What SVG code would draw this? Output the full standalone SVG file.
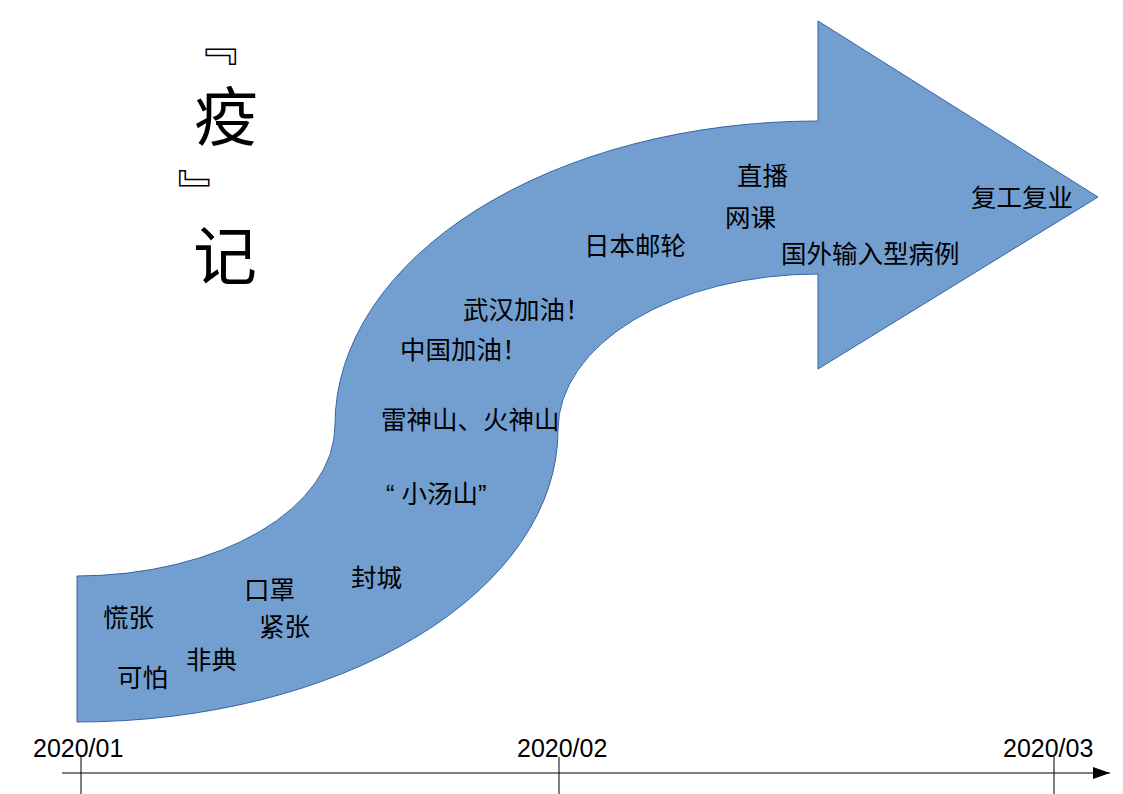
<svg xmlns="http://www.w3.org/2000/svg" width="1123" height="794" viewBox="0 0 1123 794">
<style>
.lbl{font-family:"Noto Sans CJK SC","Noto Sans",sans-serif;font-size:25.5px;fill:#000}
.lat{font-family:"Liberation Sans",Arial,sans-serif}
.date{font-family:"Liberation Sans",Arial,sans-serif;font-size:25px;fill:#000}
.title{font-family:"Noto Sans CJK SC",sans-serif;font-size:64px;fill:#000}
.br{font-family:"Noto Sans CJK SC",sans-serif;font-size:45px;fill:#000;text-anchor:middle;dominant-baseline:central}
.ax{stroke:#000;stroke-width:1;fill:none}
</style>
<defs>
<marker id="ah" markerWidth="17" markerHeight="12" refX="17" refY="6" orient="auto" markerUnits="userSpaceOnUse">
<path d="M0,0 L17,6 L0,12 Z" fill="#000"/>
</marker>
</defs>
<rect width="1123" height="794" fill="#fff"/>
<g id="title">
<text class="br" transform="translate(216,44) rotate(90)">『</text>
<text class="title" x="194" y="140">疫</text>
<text class="br" transform="translate(202,191) rotate(90)">』</text>
<text class="title" x="193" y="279">记</text>
</g>
<g id="arrow">
<path d="M77,576 A258,151 0 0 0 335,425 A483,304 0 0 1 818,121 L818,21 L1098,197 L818,369 L818,274 A260,156 0 0 0 558,430 A481,292 0 0 1 77,722 Z" fill="#729fcf" stroke="#3465a4" stroke-width="1"/>
</g>
<g id="labels">
<text class="lbl" x="103" y="627">慌张</text>
<text class="lbl" x="117" y="687">可怕</text>
<text class="lbl" x="186" y="669">非典</text>
<text class="lbl" x="244" y="599">口罩</text>
<text class="lbl" x="259" y="636">紧张</text>
<text class="lbl" x="351" y="587">封城</text>
<text class="lbl" x="386" y="503"><tspan class="lat">“ </tspan>小汤山<tspan class="lat">”</tspan></text>
<text class="lbl" x="381" y="429">雷神山、火神山</text>
<text class="lbl" x="400" y="359">中国加油！</text>
<text class="lbl" x="463" y="319">武汉加油！</text>
<text class="lbl" x="584" y="255">日本邮轮</text>
<text class="lbl" x="737" y="185">直播</text>
<text class="lbl" x="725" y="227">网课</text>
<text class="lbl" x="781" y="263">国外输入型病例</text>
<text class="lbl" x="971" y="207">复工复业</text>
</g>
<g id="connectors">
<line class="ax" x1="62" y1="773" x2="1110" y2="773" marker-end="url(#ah)"/>
<line class="ax" x1="81" y1="757" x2="81" y2="794"/>
<line class="ax" x1="559" y1="757" x2="559" y2="794"/>
<line class="ax" x1="1054" y1="757" x2="1054" y2="794"/>
</g>
<g id="dates">
<text class="date" x="33" y="757">2020/01</text>
<text class="date" x="517" y="757">2020/02</text>
<text class="date" x="1003" y="757">2020/03</text>
</g>
</svg>
